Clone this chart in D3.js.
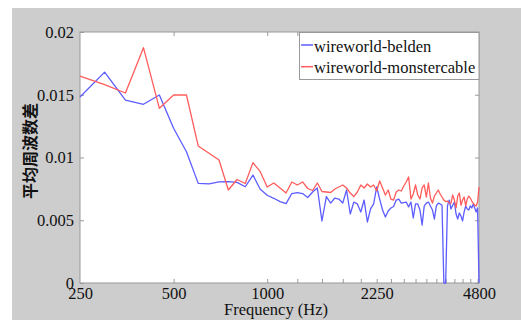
<!DOCTYPE html>
<html>
<head>
<meta charset="utf-8">
<script src="https://cdn.jsdelivr.net/npm/d3@7"></script>
<style>
  body { margin: 0; background: #fff; }
  svg text { font-family: "Liberation Serif", "Times New Roman", serif; }
</style>
</head>
<body>
<div id="chart"></div>
<script>
// Frequency bins (Hz)
const freqs = [250, 300, 350, 400, 450, 500, 550, 600, 650, 700, 750, 800, 850, 900, 950,
  1000, 1050, 1100, 1150, 1200, 1250, 1300, 1350, 1400, 1450, 1500, 1550, 1600, 1650, 1700,
  1750, 1800, 1850, 1900, 1950, 2000, 2050, 2100, 2150, 2200, 2250, 2300, 2350, 2400, 2450,
  2500, 2550, 2600, 2650, 2700, 2750, 2800, 2850, 2900, 2950, 3000, 3050, 3100, 3150, 3200,
  3250, 3300, 3350, 3400, 3450, 3500, 3550, 3600, 3650, 3700, 3750, 3800, 3850, 3900, 3950,
  4000, 4050, 4100, 4150, 4200, 4250, 4300, 4350, 4400, 4450, 4500, 4550, 4600, 4650, 4700,
  4750, 4800];

const belden = [0.01482, 0.0168, 0.01458, 0.01424, 0.01498, 0.01233, 0.01046, 0.00794, 0.0079, 0.00805,
  0.00807, 0.00802, 0.00767, 0.0086, 0.00747, 0.00699, 0.00675, 0.00648, 0.00633, 0.00713,
  0.0072, 0.00713, 0.00681, 0.00725, 0.00757, 0.00494, 0.00689, 0.00637, 0.00677, 0.00669,
  0.00637, 0.00741, 0.0055, 0.00645, 0.0063, 0.00566, 0.00661, 0.00486, 0.0059, 0.0063,
  0.00765, 0.00669, 0.00582, 0.00526, 0.00574, 0.00598, 0.0061, 0.00661, 0.00669, 0.00637,
  0.00641, 0.00645, 0.00606, 0.00645, 0.00518, 0.0063, 0.0063, 0.00582, 0.00462, 0.00614,
  0.00637, 0.00645, 0.00614, 0.00582, 0.0051, 0.00614, 0.00637, 0.0063, 0.0062, 0,
  0, 0.00614, 0.00661, 0.0059, 0.0062, 0.00645, 0.0055, 0.0051, 0.00558, 0.00534,
  0.00494, 0.00566, 0.00614, 0.0059, 0.00582, 0.00614, 0.00598, 0.0063, 0.00598, 0.00566,
  0.00598, 0];

const monster = [0.01649, 0.0158, 0.01514, 0.01875, 0.01392, 0.01498, 0.01498, 0.01092, 0.01034, 0.0098,
  0.00741, 0.00825, 0.00793, 0.00959, 0.00887, 0.00765, 0.00797, 0.00757, 0.00717, 0.00805,
  0.00781, 0.00805, 0.00753, 0.00737, 0.00797, 0.00729, 0.00725, 0.00721, 0.00749, 0.00765,
  0.00781, 0.00757, 0.00717, 0.00689, 0.00725, 0.00781, 0.00757, 0.00789, 0.00765, 0.00781,
  0.00733, 0.00813, 0.00757, 0.00701, 0.00741, 0.00669, 0.00661, 0.00725, 0.00741, 0.00733,
  0.00773, 0.00805, 0.00845, 0.00669, 0.00709, 0.00781, 0.00701, 0.00669, 0.00757, 0.00781,
  0.00685, 0.00797, 0.00677, 0.00637, 0.00693, 0.00717, 0.00741, 0.00709, 0.00685, 0.00661,
  0.00649, 0.00653, 0.00637, 0.00637, 0.00701, 0.00661, 0.00598, 0.00693, 0.00717, 0.0062,
  0.00661, 0.00685, 0.00614, 0.00669, 0.00693, 0.00677, 0.00653, 0.00637, 0.0062, 0.00614,
  0.00645, 0.00765];

const seriesNames = ["wireworld-belden", "wireworld-monstercable"];
const seriesColors = ["#5c5cff", "#ff5c5c"];

// x ticks: labelled ones and the minor ones every 250 Hz above 1000
const xLabelTicks = [250, 500, 1000, 2250, 4800];
const xTicks = [500, 1000, 1250, 1500, 1750, 2000, 2250, 2500, 2750, 3000, 3250, 3500,
  3750, 4000, 4250, 4500, 4750];
const yTicks = [0, 0.005, 0.01, 0.015, 0.02];

const W = 521, H = 320;
const plot = {left: 80, right: 479, top: 32, bottom: 283};
const serif = '"Liberation Serif", "Times New Roman", serif';

const svg = d3.select("#chart").append("svg")
    .attr("width", W)
    .attr("height", H);

// grey figure background
svg.append("rect")
    .attr("x", 12).attr("y", 8)
    .attr("width", W - 12).attr("height", H - 8)
    .attr("fill", "#cdcdcd");

svg.append("rect")
    .attr("x", plot.left).attr("y", plot.top)
    .attr("width", plot.right - plot.left).attr("height", plot.bottom - plot.top)
    .attr("fill", "#fff");

const x = d3.scaleLog()
    .domain([250, 4800])
    .range([plot.left, plot.right]);

const y = d3.scaleLinear()
    .domain([0, 0.02])
    .range([plot.bottom, plot.top]);

const axisColor = "#999";

function styleAxis(g) {
  g.attr("font-family", serif);
  g.select(".domain").remove();
  g.selectAll(".tick line").attr("stroke", axisColor);
  g.selectAll(".tick text")
    .attr("fill", "#111")
    .style("font-family", serif)
    .style("font-size", "16.5px");
}

// bottom axis (ticks inward)
svg.append("g")
    .attr("transform", `translate(0, ${plot.bottom})`)
    .call(d3.axisBottom(x).tickValues(xTicks).tickSize(-4).tickFormat(""))
    .call(styleAxis);

svg.append("g")
    .attr("transform", `translate(0, ${plot.bottom})`)
    .call(d3.axisBottom(x).tickValues(xLabelTicks).tickSize(0).tickPadding(4)
      .tickFormat(d => d))
    .call(styleAxis);

// top axis
svg.append("g")
    .attr("transform", `translate(0, ${plot.top})`)
    .call(d3.axisTop(x).tickValues(xTicks).tickSize(-4).tickFormat(""))
    .call(styleAxis);

// left axis
svg.append("g")
    .attr("transform", `translate(${plot.left}, 0)`)
    .call(d3.axisLeft(y).tickValues(yTicks).tickSize(-4).tickPadding(6)
      .tickFormat(d => d3.format("")(+d.toFixed(3))))
    .call(styleAxis);

// right axis
svg.append("g")
    .attr("transform", `translate(${plot.right}, 0)`)
    .call(d3.axisRight(y).tickValues(yTicks).tickSize(-4).tickFormat(""))
    .call(styleAxis);

// plot frame
svg.append("rect")
    .attr("x", plot.left).attr("y", plot.top)
    .attr("width", plot.right - plot.left).attr("height", plot.bottom - plot.top)
    .attr("fill", "none")
    .attr("stroke", axisColor)
    .attr("stroke-width", 1);

// lines
const line = d3.line()
    .x((d, i) => x(freqs[i]))
    .y(d => y(d));

[belden, monster].forEach((vals, k) => {
  svg.append("path")
      .datum(vals)
      .attr("d", line)
      .attr("fill", "none")
      .attr("stroke", seriesColors[k])
      .attr("stroke-width", 1.3)
      .attr("stroke-linejoin", "round");
});

// legend
const legend = svg.append("g");
legend.append("rect")
    .attr("x", 299.5).attr("y", plot.top + 0.5)
    .attr("width", plot.right - 299.5).attr("height", 47)
    .attr("fill", "#fff")
    .attr("stroke", axisColor);

seriesNames.forEach((name, k) => {
  const ly = 45 + k * 21.7;
  legend.append("line")
      .attr("x1", 301).attr("x2", 313)
      .attr("y1", ly).attr("y2", ly)
      .attr("stroke", seriesColors[k])
      .attr("stroke-width", 1.5);
  legend.append("text")
      .attr("x", 314)
      .attr("y", ly + 6.5)
      .attr("fill", "#111")
      .style("font-family", serif)
      .style("font-size", "16.5px")
      .text(name);
});

// axis titles
svg.append("text")
    .attr("x", 276)
    .attr("y", 315)
    .attr("text-anchor", "middle")
    .attr("fill", "#111")
    .style("font-family", serif)
    .style("font-size", "16.5px")
    .text("Frequency (Hz)");

svg.append("text")
    .attr("transform", "translate(36, 151) rotate(-90)")
    .attr("text-anchor", "middle")
    .attr("fill", "#111")
    .style("font-family", '"Noto Sans CJK SC", sans-serif')
    .style("font-weight", "bold")
    .style("font-size", "16px")
    .text("平均周波数差");
</script>
</body>
</html>
